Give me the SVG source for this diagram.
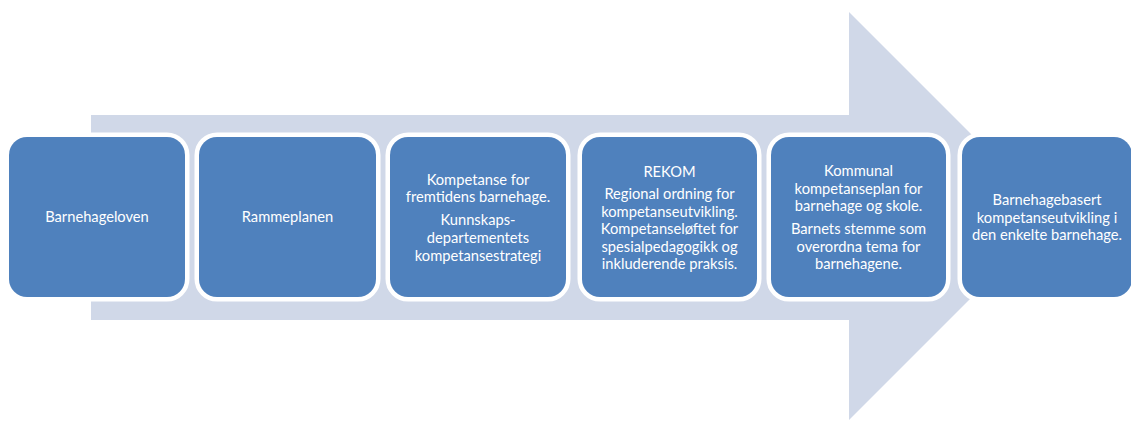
<svg xmlns="http://www.w3.org/2000/svg" width="1131" height="421" viewBox="0 0 1131 421">
<style>
.box{fill:#4F81BD;stroke:#FFFFFF;stroke-width:9;paint-order:stroke}
.t{font-family:Lato,"Liberation Sans",sans-serif;font-size:14.7px;fill:#FFFFFF;text-anchor:middle}
</style>
<rect width="1131" height="421" fill="#FFFFFF"/>
<g id="arrow">
<polygon points="91,115 849,115 849,12 1053,216 849,420 849,320 91,320" fill="#D0D8E8"/>
</g>
<g id="connectors"></g>
<g id="node1">
<rect class="box" x="9" y="137" width="176" height="160" rx="18"/>
<text class="t" x="97" y="222">Barnehageloven</text>
</g>
<g id="node2">
<rect class="box" x="199" y="137" width="177" height="160" rx="18"/>
<text class="t" x="287.5" y="222">Rammeplanen</text>
</g>
<g id="node3">
<rect class="box" x="390" y="137" width="176" height="160" rx="18"/>
<text class="t" x="478" y="185">Kompetanse for</text>
<text class="t" x="478" y="202">fremtidens barnehage.</text>
<text class="t" x="478" y="225">Kunnskaps-</text>
<text class="t" x="478" y="243">departementets</text>
<text class="t" x="478" y="261">kompetansestrategi</text>
</g>
<g id="node4">
<rect class="box" x="582" y="137" width="175" height="160" rx="18"/>
<text class="t" x="669.5" y="177">REKOM</text>
<text class="t" x="669.5" y="199">Regional ordning for</text>
<text class="t" x="669.5" y="216.5">kompetanseutvikling.</text>
<text class="t" x="669.5" y="234">Kompetanseløftet for</text>
<text class="t" x="669.5" y="251.5">spesialpedagogikk og</text>
<text class="t" x="669.5" y="269">inkluderende praksis.</text>
</g>
<g id="node5">
<rect class="box" x="771" y="137" width="175" height="160" rx="18"/>
<text class="t" x="858.5" y="176">Kommunal</text>
<text class="t" x="858.5" y="193.5">kompetanseplan for</text>
<text class="t" x="858.5" y="211">barnehage og skole.</text>
<text class="t" x="858.5" y="234">Barnets stemme som</text>
<text class="t" x="858.5" y="251.5">overordna tema for</text>
<text class="t" x="858.5" y="269">barnehagene.</text>
</g>
<g id="node6">
<rect class="box" x="962" y="137" width="170" height="160" rx="18"/>
<text class="t" x="1047" y="205">Barnehagebasert</text>
<text class="t" x="1047" y="222.5">kompetanseutvikling i</text>
<text class="t" x="1047" y="240">den enkelte barnehage.</text>
</g>
</svg>
